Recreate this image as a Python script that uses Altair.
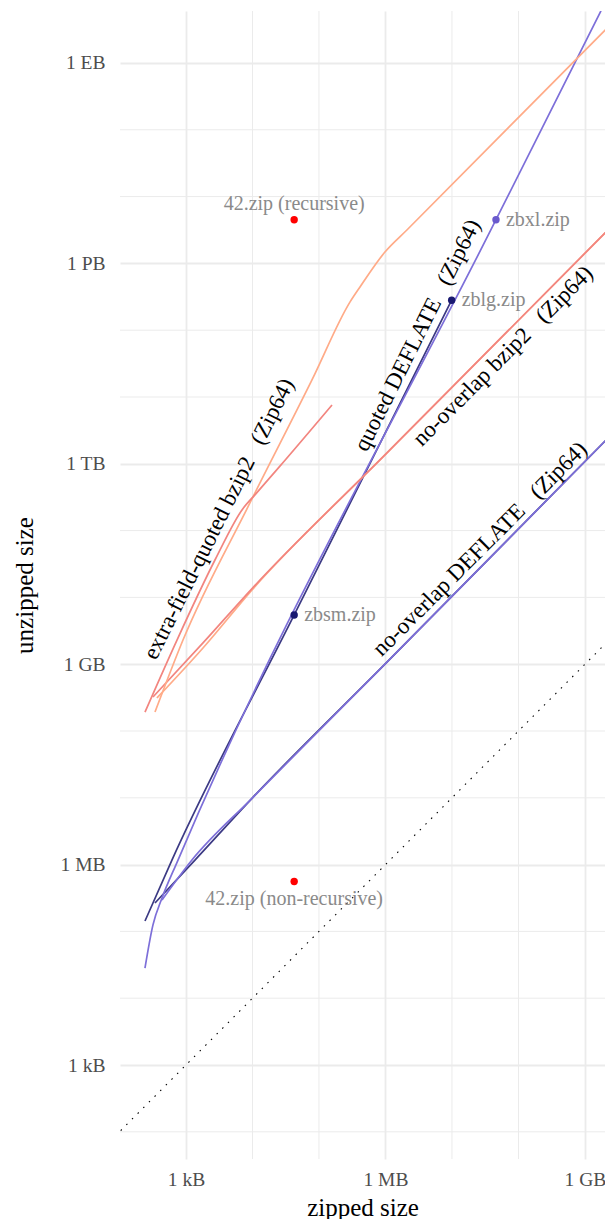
import altair as alt
import pandas as pd

# ---------------- data (bytes) ----------------
# quoted DEFLATE (non-Zip64)
qd_zip = [242, 615, 42374, 9893525]
qd_unz = [1.43e5, 1.17e6, 5.46e9, 2.81e14]
# quoted DEFLATE (Zip64)
qd64_zip = [242, 319, 436, 759, 4.59e7, 1.74e9]
qd64_unz = [2.83e4, 1.25e5, 3.16e5, 1.17e6, 4.51e15, 6.03e18]
# no-overlap DEFLATE (non-Zip64)
nd_zip = [342, 1365, 1.0e4, 1.0e6, 2.46e9]
nd_unz = [2.66e5, 1.17e6, 1.0e7, 1.02e9, 2.69e12]
# no-overlap DEFLATE (Zip64)
nd64_zip = [436, 1230, 1.0e4, 1.0e6, 2.46e9]
nd64_unz = [2.95e5, 1.17e6, 1.0e7, 1.02e9, 2.69e12]
# extra-field-quoted bzip2 (non-Zip64)
eb_zip = [242, 733, 2730, 7080, 11220, 25120, 1.57e5]
eb_unz = [1.92e8, 2.30e9, 3.63e10, 2.09e11, 3.55e11, 8.91e11, 7.59e12]
# extra-field-quoted bzip2 (Zip64)
eb64_zip = [342, 902, 9160, 7.85e4, 2.92e5, 4.14e5, 9.82e5, 2.10e6, 2.46e9]
eb64_unz = [1.92e8, 2.30e9, 2.59e11, 1.80e13, 2.63e14, 4.44e14, 1.48e15, 3.16e15, 3.80e18]
# no-overlap bzip2 (non-Zip64)
nb_zip = [319, 1803, 1.0e4, 1.0e6, 2.46e9]
nb_unz = [3.23e8, 2.08e9, 1.38e10, 1.38e12, 3.51e15]
# no-overlap bzip2 (Zip64)
nb64_zip = [366, 1803, 1.0e4, 1.0e6, 2.46e9]
nb64_unz = [3.12e8, 1.75e9, 1.32e10, 1.38e12, 3.51e15]

# individual files
pt_names = ["42.zip (recursive)", "42.zip (non-recursive)", "zbsm.zip", "zblg.zip", "zbxl.zip"]
pt_zip = [42374, 42374, 42374, 9893525, 45876952]
pt_unz = [4507981343026016, 558432, 5461307620, 281395456244934, 4507981427706459]

# line annotations
lab_text = ["extra-field-quoted bzip2\u00a0\u00a0\u00a0(Zip64)",
            "quoted DEFLATE\u00a0\u00a0\u00a0(Zip64)",
            "no-overlap bzip2\u00a0\u00a0\u00a0(Zip64)",
            "no-overlap DEFLATE\u00a0\u00a0\u00a0(Zip64)"]
lab_x = [3133, 3.04e6, 5.85e7, 2.64e7]
lab_y = [1.49e11, 8.4e13, 4.11e13, 5.31e10]

# axis ticks
x_ticks = [1e3, 1e6, 1e9]
x_tick_labels = ["1 kB", "1 MB", "1 GB"]
y_ticks = [1e3, 1e6, 1e9, 1e12, 1e15, 1e18]
y_tick_labels = ["1 kB", "1 MB", "1 GB", "1 TB", "1 PB", "1 EB"]
x_minor = [1e2, 1e4, 1e5, 1e7, 1e8]
y_minor = [1e2, 1e4, 1e5, 1e7, 1e8, 1e10, 1e11, 1e13, 1e14, 1e16, 1e17]
diag = [1e1, 1e10]

# ---------------- styling ----------------
FONT = "Liberation Serif"
NAVY = "#3c3a84"
PURPLE = "#7d6fd9"
CORAL = "#f2857f"
PEACH = "#ffab88"
NAVY_PT = "#191970"
PURPLE_PT = "#6a5acd"
GRID = "#ebebeb"


def label_expr(ticks, labels):
    expr = "'%s'" % labels[-1]
    for t, l in reversed(list(zip(ticks[:-1], labels[:-1]))):
        expr = "datum.value < %g ? '%s' : %s" % (t * 3, l, expr)
    return expr


xscale = alt.Scale(type="log", domain=[101.86, 2.0e9], nice=False)
yscale = alt.Scale(type="log", domain=[39.17, 6.0e18], nice=False)

xaxis = alt.Axis(values=x_ticks, labelExpr=label_expr(x_ticks, x_tick_labels),
                 grid=True, gridColor=GRID, gridWidth=1.8, domain=False, ticks=False,
                 tickSize=0, labelFlush=False, labelOverlap=False,
                 labelFont=FONT, labelFontSize=19.5, labelColor="#4d4d4d", labelPadding=11,
                 title="zipped size", titleFont=FONT, titleFontSize=25,
                 titleFontWeight="normal", titleColor="black",
                 titleY=56, titleBaseline="alphabetic")
yaxis = alt.Axis(values=y_ticks, labelExpr=label_expr(y_ticks, y_tick_labels),
                 grid=True, gridColor=GRID, gridWidth=1.8, domain=False, ticks=False,
                 tickSize=0, labelFlush=False, labelOverlap=False,
                 labelFont=FONT, labelFontSize=19.5, labelColor="#4d4d4d", labelPadding=15,
                 title="unzipped size", titleFont=FONT, titleFontSize=25,
                 titleFontWeight="normal", titleColor="black",
                 titleX=-96, titleY=574, titleAngle=270, titleAlign="center",
                 titleBaseline="middle")

X = alt.X("x:Q", scale=xscale, axis=xaxis)
Y = alt.Y("y:Q", scale=yscale, axis=yaxis)

layers = []

# minor gridlines
layers.append(alt.Chart(pd.DataFrame({"x": x_minor})).mark_rule(
    color=GRID, strokeWidth=1, clip=True).encode(x=X))
layers.append(alt.Chart(pd.DataFrame({"y": y_minor})).mark_rule(
    color=GRID, strokeWidth=1, clip=True).encode(y=Y))

# y = x reference
layers.append(alt.Chart(pd.DataFrame({"x": diag, "y": diag})).mark_line(
    clip=True, color="black", strokeWidth=1.1, strokeDash=[1.5, 6.5]).encode(x=X, y=Y))

series = [
    (nd_zip, nd_unz, NAVY),
    (nd64_zip, nd64_unz, PURPLE),
    (qd_zip, qd_unz, NAVY),
    (qd64_zip, qd64_unz, PURPLE),
    (nb64_zip, nb64_unz, PEACH),
    (nb_zip, nb_unz, CORAL),
    (eb64_zip, eb64_unz, PEACH),
    (eb_zip, eb_unz, CORAL),
]
for xs, ys, col in series:
    df = pd.DataFrame({"x": xs, "y": ys, "i": list(range(len(xs)))})
    layers.append(alt.Chart(df).mark_line(clip=True, color=col, strokeWidth=1.7,
                                          interpolate="monotone").encode(
        x=X, y=Y, order="i:Q"))

# points
pts = pd.DataFrame({"name": pt_names, "x": pt_zip, "y": pt_unz})
pt_colors = ["#ff0000", "#ff0000", NAVY_PT, NAVY_PT, PURPLE_PT]
layers.append(alt.Chart(pts).mark_circle(size=55, opacity=1).encode(
    x=X, y=Y,
    color=alt.Color("name:N", scale=alt.Scale(domain=pt_names, range=pt_colors), legend=None)))

above = [pt_names[0]]
below = [pt_names[1]]
right = pt_names[2:]
common = dict(font=FONT, fontSize=20, color="#8a8a8a")
layers.append(alt.Chart(pts).transform_filter(
    alt.FieldOneOfPredicate(field="name", oneOf=above)).mark_text(
    dy=-16, align="center", baseline="middle", **common).encode(x=X, y=Y, text="name:N"))
layers.append(alt.Chart(pts).transform_filter(
    alt.FieldOneOfPredicate(field="name", oneOf=below)).mark_text(
    dy=17, align="center", baseline="middle", **common).encode(x=X, y=Y, text="name:N"))
layers.append(alt.Chart(pts).transform_filter(
    alt.FieldOneOfPredicate(field="name", oneOf=right)).mark_text(
    dx=10, align="left", baseline="middle", **common).encode(x=X, y=Y, text="name:N"))

# line annotations
labs = pd.DataFrame({"text": lab_text, "x": lab_x, "y": lab_y})
steep = lab_text[:2]
shallow = lab_text[2:]
layers.append(alt.Chart(labs).transform_filter(
    alt.FieldOneOfPredicate(field="text", oneOf=steep)).mark_text(
    angle=296.5, font=FONT, fontSize=23, color="black", align="center",
    baseline="middle").encode(x=X, y=Y, text="text:N"))
layers.append(alt.Chart(labs).transform_filter(
    alt.FieldOneOfPredicate(field="text", oneOf=shallow)).mark_text(
    angle=315, font=FONT, fontSize=23, color="black", align="center",
    baseline="middle").encode(x=X, y=Y, text="text:N"))

chart = alt.layer(*layers).properties(
    width=485, height=1148,
    autosize=alt.AutoSizeParams(type="none"),
    padding={"left": 112, "top": 3, "right": 0, "bottom": 60},
    background="white",
).configure_view(stroke="transparent")

chart.save("out.html", embed_options={"renderer": "svg", "actions": False})
